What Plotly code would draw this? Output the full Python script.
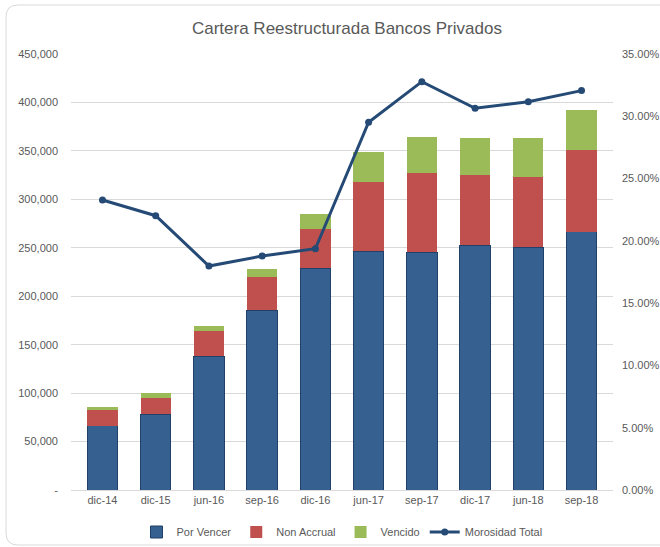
import plotly.graph_objects as go

categories = ["dic-14", "dic-15", "jun-16", "sep-16", "dic-16", "jun-17", "sep-17", "dic-17", "jun-18", "sep-18"]
por_vencer = [66400, 78400, 138300, 185400, 229000, 246600, 245300, 252500, 250500, 266600]
non_accrual = [15800, 16900, 26100, 34600, 40700, 71300, 81500, 72300, 72500, 84600]
vencido = [3400, 4500, 4500, 8400, 14800, 31200, 37500, 38500, 40300, 40700]
morosidad = [0.2328, 0.2202, 0.1798, 0.1878, 0.1937, 0.2952, 0.3278, 0.3064, 0.3117, 0.3206]

left_ticks = [0, 50000, 100000, 150000, 200000, 250000, 300000, 350000, 400000, 450000]
left_text = ["-", "50,000", "100,000", "150,000", "200,000", "250,000", "300,000", "350,000", "400,000", "450,000"]
right_ticks = [0, 0.05, 0.10, 0.15, 0.20, 0.25, 0.30, 0.35]
right_text = ["0.00%", "5.00%", "10.00%", "15.00%", "20.00%", "25.00%", "30.00%", "35.00%"]

FONT = "Liberation Sans"
GRAY = "#595959"

W, H = 660, 547
L, R, T, B = 71, 47, 54, 57

fig = go.Figure()
fig.add_trace(go.Bar(x=categories, y=por_vencer, name="Por Vencer",
                     marker=dict(color="#35608F", line=dict(color="#22416A", width=1))))
fig.add_trace(go.Bar(x=categories, y=non_accrual, name="Non Accrual",
                     marker=dict(color="#C0504D", line=dict(width=0))))
fig.add_trace(go.Bar(x=categories, y=vencido, name="Vencido",
                     marker=dict(color="#9BBB59", line=dict(width=0))))
fig.add_trace(go.Scatter(x=categories, y=morosidad, name="Morosidad Total", yaxis="y2",
                         mode="lines+markers",
                         line=dict(color="#254A75", width=3),
                         marker=dict(color="#254A75", size=7)))

pw, ph = W - L - R, H - T - B
def px(x):
    return (x - L) / pw
def py(y):
    return (H - B - y) / ph
path = (f"M {px(18)} {py(5)} L {px(680)} {py(5)} L {px(680)} {py(545)} L {px(18)} {py(545)} "
        f"Q {px(6)} {py(545)} {px(6)} {py(533)} L {px(6)} {py(17)} Q {px(6)} {py(5)} {px(18)} {py(5)} Z")

fig.update_layout(
    width=W, height=H,
    barmode="stack", bargap=0.43,
    paper_bgcolor="white", plot_bgcolor="white",
    margin=dict(l=L, r=R, t=T, b=B, autoexpand=False),
    font=dict(family=FONT, size=11, color=GRAY),
    title=dict(text="Cartera Reestructurada Bancos Privados", x=336 / W, xanchor="center",
               xref="paper", y=1 - 28 / H, yanchor="middle", automargin=False,
               font=dict(family=FONT, size=17, color=GRAY)),
    xaxis=dict(showgrid=False, showline=True, linecolor="#D9D9D9", ticks="", automargin=False,
               tickfont=dict(size=11, color=GRAY)),
    yaxis=dict(range=[0, 450000], tickvals=left_ticks, ticktext=left_text, automargin=False,
               showgrid=True, gridcolor="#D9D9D9", gridwidth=1, zeroline=False,
               ticks="", ticklabelstandoff=12, tickfont=dict(size=11, color=GRAY)),
    yaxis2=dict(range=[0, 0.35], tickvals=right_ticks, ticktext=right_text, automargin=False,
                overlaying="y", side="right", showgrid=False, zeroline=False,
                ticks="", ticklabelstandoff=8, tickfont=dict(size=11, color=GRAY)),
    legend=dict(orientation="h", x=0.5, xanchor="center", y=py(532), yanchor="middle",
                bgcolor="rgba(0,0,0,0)",
                font=dict(size=11, color=GRAY), traceorder="normal"),
    showlegend=True,
    hovermode=False,
    shapes=[dict(type="path", xref="paper", yref="paper", path=path,
                 line=dict(color="#D9D9D9", width=1), layer="below")],
)

fig.write_html("out.html", config={"displayModeBar": False},
               post_script="document.body.style.margin='0';document.body.style.padding='0';")
